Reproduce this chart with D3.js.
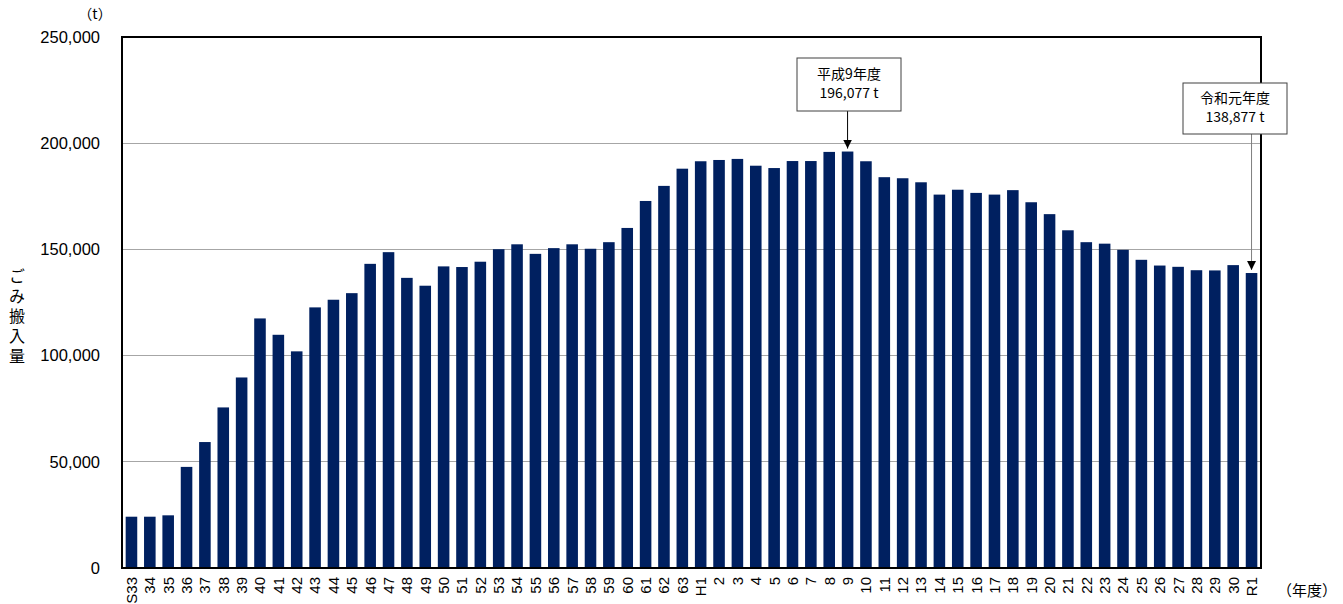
<!DOCTYPE html>
<html><head><meta charset="utf-8">
<script src="https://cdn.jsdelivr.net/npm/d3@7"></script>
<style>
html,body{margin:0;padding:0;background:#fff;}
svg{display:block;}
text{font-family:"Liberation Sans",Arial,sans-serif;}
.jp{font-family:"Noto Sans CJK JP","Liberation Sans",sans-serif;}
</style></head>
<body><svg id="c" width="1343" height="604"></svg>
<script>
const categories = ["S33","34","35","36","37","38","39","40","41","42","43","44","45","46","47","48","49","50","51","52","53","54","55","56","57","58","59","60","61","62","63",
"H1","2","3","4","5","6","7","8","9","10","11","12","13","14","15","16","17","18","19","20","21","22","23","24","25","26","27","28","29","30","R1"];
const values = [24150,24150,24800,47600,59300,75600,89700,117500,109800,102000,122700,126300,129400,143200,148700,136600,132900,142000,141700,144200,150100,152400,147900,150600,152400,150300,153400,160100,172800,179900,188000,
191500,192100,192600,189400,188300,191600,191600,195900,196077,191500,184000,183500,181600,175800,178100,176600,175800,177900,172200,166600,159000,153400,152700,149800,145100,142400,141800,140200,140100,142600,138877];
const yTicks = [0,50000,100000,150000,200000,250000];
const annotations = [
  {idx:39, line1:"平成9年度", line2:"196,077 t"},
  {idx:61, line1:"令和元年度", line2:"138,877 t"}
];

const svg = d3.select("#c");
const L=122, R=1261, T=37, B=568;
const x = d3.scaleBand().domain(d3.range(categories.length)).range([L,R]).paddingInner(0.37).paddingOuter(0.2);
const y = d3.scaleLinear().domain([0,250000]).range([B,T]);

// gridlines
svg.append("g").selectAll("line").data(yTicks.filter(d=>d>0&&d<250000)).join("line")
  .attr("x1",L).attr("x2",R).attr("y1",d=>y(d)).attr("y2",d=>y(d))
  .attr("stroke","#a6a6a6").attr("stroke-width",1).attr("shape-rendering","crispEdges");

// bars
svg.append("g").selectAll("rect").data(values).join("rect")
  .attr("x",(d,i)=>x(i)).attr("width",x.bandwidth())
  .attr("y",d=>y(d)).attr("height",d=>B-y(d))
  .attr("fill","#002060");

// frame
svg.append("rect").attr("x",L).attr("y",T).attr("width",R-L).attr("height",B-T)
  .attr("fill","none").attr("stroke","#000").attr("stroke-width",2);

// y axis
const ya = svg.append("g").attr("transform",`translate(${L},0)`)
  .call(d3.axisLeft(y).tickValues(yTicks).tickSize(0).tickPadding(22).tickFormat(d3.format(",")));
ya.select(".domain").remove();
ya.selectAll("text").attr("font-size","16.5px").attr("fill","#000").attr("font-family","Liberation Sans, Arial, sans-serif");

// x axis labels
const xa = svg.append("g").attr("transform",`translate(0,${B})`)
  .call(d3.axisBottom(x).tickSize(0).tickFormat(i=>categories[i]));
xa.select(".domain").remove();
xa.selectAll("text")
  .attr("font-size","15px").attr("fill","#000").attr("font-family","Liberation Sans, Arial, sans-serif")
  .attr("text-anchor","end").attr("transform","rotate(-90)")
  .attr("x",-9).attr("y",0).attr("dy","0.36em");

// unit labels
svg.append("text").attr("class","jp").attr("x",95).attr("y",19).attr("text-anchor","middle")
  .attr("font-size","14px").text("（t）");
svg.append("text").attr("class","jp").attr("x",1307).attr("y",596).attr("text-anchor","middle")
  .attr("font-size","15px").text("（年度）");

// y axis title vertical
svg.append("text").attr("class","jp")
  .attr("x",17).attr("y",318).attr("text-anchor","middle")
  .style("writing-mode","vertical-rl").style("letter-spacing","4px")
  .attr("font-size","16px").text("ごみ搬入量");

// arrow marker
svg.append("defs").append("marker").attr("id","arr").attr("viewBox","0 0 10 10")
  .attr("refX",10).attr("refY",5).attr("markerWidth",9).attr("markerHeight",9)
  .attr("markerUnits","userSpaceOnUse").attr("orient","auto")
  .append("path").attr("d","M0,0 L10,5 L0,10 z").attr("fill","#000");

// annotations
const boxes = [
  {x0:797, y0:58, w:104, h:53},
  {x0:1183, y0:83, w:104, h:51}
];
annotations.forEach((a,k)=>{
  const cx = x(a.idx)+x.bandwidth()/2;
  const b = boxes[k];
  svg.append("line").attr("x1",cx).attr("x2",cx).attr("y1",b.y0+b.h).attr("y2",y(values[a.idx])-3)
    .attr("stroke",k===0?"#000":"#7f7f7f").attr("stroke-width",1).attr("marker-end","url(#arr)");
  svg.append("rect").attr("x",b.x0).attr("y",b.y0).attr("width",b.w).attr("height",b.h)
    .attr("fill","#fff").attr("stroke","#404040").attr("stroke-width",1);
  svg.append("text").attr("class","jp").attr("x",b.x0+b.w/2).attr("y",b.y0+b.h*0.3).attr("dy","0.35em")
    .attr("text-anchor","middle").attr("font-size","14px").text(a.line1);
  svg.append("text").attr("class","jp").attr("x",b.x0+b.w/2).attr("y",b.y0+b.h*0.67).attr("dy","0.35em")
    .attr("text-anchor","middle").attr("font-size","14px").text(a.line2);
});
</script></body></html>
